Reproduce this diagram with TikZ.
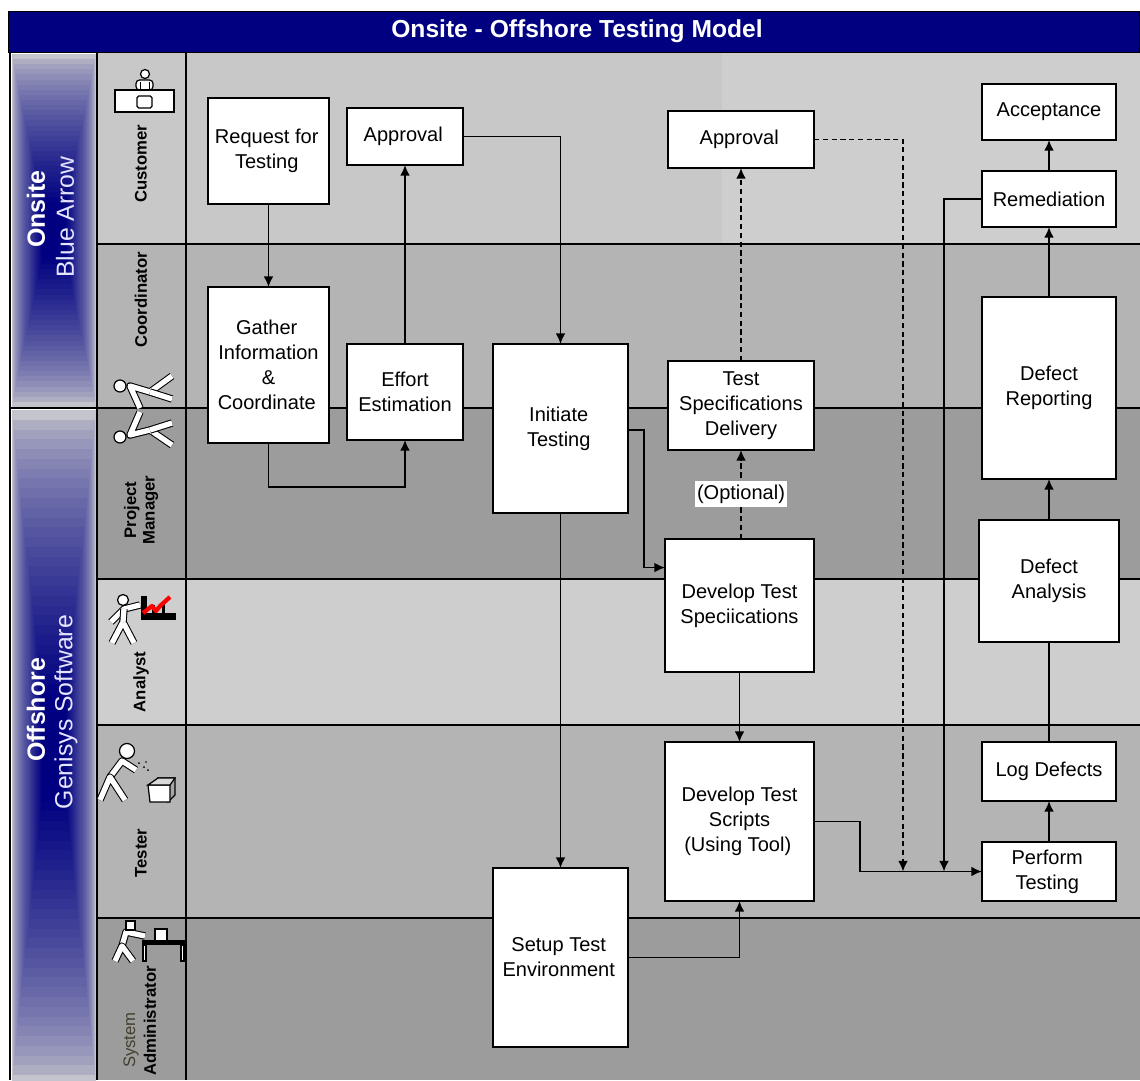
\documentclass[tikz,border=0pt]{standalone}
\usepackage{fontspec}
\setmainfont{Liberation Sans}
\usetikzlibrary{arrows.meta}
\definecolor{navyb}{HTML}{000080}
\definecolor{bandA}{HTML}{CECECE}
\definecolor{bandS}{HTML}{C8C8C8}
\definecolor{bandB}{HTML}{B4B4B4}
\definecolor{bandC}{HTML}{9C9C9C}
\definecolor{fadeout}{HTML}{C4C4CC}
\tikzset{
  x=0.02cm,y=-0.02cm,
  flowbox/.style={draw=black,fill=white,line width=1pt,align=center,inner sep=0pt,outer sep=0pt,
    font=\fontsize{11.4}{14.2}\selectfont},
  flow/.style={draw=black,line width=1pt,-{Latex[length=6pt,width=5.5pt]}},
  flowplain/.style={draw=black,line width=1pt},
  flowdash/.style={flow,dash pattern=on 3pt off 2pt},
  rule/.style={draw=black,line width=0.85pt},
  heavy/.style={draw=black,line width=1.5pt},
  rolelabel/.style={rotate=90,font=\fontsize{9.5}{10.5}\selectfont\bfseries,align=center,inner sep=0pt,text=black},
  rolethin/.style={rotate=90,font=\fontsize{9.5}{10.5}\selectfont,align=center,inner sep=0pt,text=black!70!olive},
  sidebold/.style={rotate=90,text=white,font=\fontsize{14.2}{16}\selectfont\bfseries,inner sep=0pt},
  sidethin/.style={rotate=90,text=white!90!blue,font=\fontsize{14.1}{16}\selectfont,inner sep=0pt},
  limb/.style={draw=black,line width=0.6pt,double=white,double distance=3pt,line cap=butt,line join=round},
  solid icon/.style={draw=black,fill=white,line width=0.7pt},
}
\newcommand{\flowbx}[6]{\node[flowbox,minimum width={(#4-#2)*0.56905pt},minimum height={(#5-#3)*0.56905pt}] (#1) at ({(#2+#4)/2},{(#3+#5)/2}) {#6};}
\newcommand{\lf}{\hspace*{2pt}}
\newcommand{\fadecol}[4]{%
  \foreach \k in {0,...,29}{%
    \pgfmathsetmacro{\tt}{\k/29}
    \pgfmathsetmacro{\mixv}{100*pow(\tt,0.65)}
    \pgfmathsetmacro{\dx}{\tt*30}
    \pgfmathsetmacro{\dy}{\tt*(#4-#2)*0.42}
    \fill[navyb!\mixv!fadeout] ({#1+\dx},{#2+\dy}) rectangle ({#3-\dx},{#4-\dy});
  }}
\begin{document}
\begin{tikzpicture}
\useasboundingbox (0,0) rectangle (1140,1080);
\begin{scope}
\clip (0,0) rectangle (1140,1080);
% bands
\fill[bandA] (186,52) rectangle (1140,244);
\fill[bandS] (97,52) rectangle (722,244);
\fill[bandB] (97,244) rectangle (1140,408);
\fill[bandC] (97,408) rectangle (1140,579);
\fill[bandA] (97,579) rectangle (1140,725);
\fill[bandB] (97,725) rectangle (1140,918);
\fill[bandC] (97,918) rectangle (1140,1080);
% side columns
\fadecol{12}{54}{96}{407}
\fadecol{12}{410}{96}{1085}
\foreach \yy in {244,408,579,725,918}{\draw[rule] (97,\yy) -- (1140,\yy);}
\draw[heavy] (10,52) -- (10,1080);
\draw[heavy] (97,52) -- (97,1080);
\draw[heavy] (186,52) -- (186,1080);
\draw[heavy] (10,408) -- (186,408);
% title
\node[fill=navyb,draw=black,line width=0.5pt,minimum width={1132*0.56905pt},minimum height={41*0.56905pt},inner sep=0pt,text=white,font=\fontsize{14}{16}\selectfont\bfseries] (title) at (574,31.5) {\hspace*{3.4pt}Onsite - Offshore Testing Model};
% side labels
\node[sidebold] (onsite) at (36,209) {Onsite};
\node[sidethin] (bluearrow) at (65,217) {Blue Arrow};
\node[sidebold] (offshore) at (36,710) {Offshore};
\node[sidethin] (genisys) at (66,712) {Genisys Software};
% role labels
\node[rolelabel] (customer) at (141,164) {Customer};
\node[rolelabel] (coordinator) at (141,300) {Coordinator};
\node[rolelabel] (pm) at (141,510) {Project\\Manager};
\node[rolelabel] (analyst) at (141,682) {Analyst};
\node[rolelabel] (tester) at (141,853) {Tester};
\node[rolethin] (system) at (131,1040) {System};
\node[rolelabel] (admin) at (150,1021) {Administrator};
% customer icon
\draw[solid icon] (145,74) circle (4.5);
\draw[solid icon,rounded corners=2pt] (136,90) -- (136,80) -- (153,80) -- (153,90) -- cycle;
\draw[black,line width=0.5pt] (140,82) -- (140,90) (149,82) -- (149,90);
\draw[solid icon] (115,90) rectangle (174,112);
\draw[solid icon,rounded corners=1pt] (137,96) rectangle (152,108);
% coordinator icon
\draw[limb] (140,408) -- (130,386) -- (150,392) -- (172,376);
\draw[limb] (150,392) -- (172,399);
\draw[solid icon] (120,386) circle (6);
% project manager icon
\draw[limb] (140,412) -- (130,435) -- (150,430) -- (172,445);
\draw[limb] (150,430) -- (172,423);
\draw[solid icon] (120,437) circle (6);
% analyst icon
\draw[limb] (140,605) -- (124,609) -- (111,622);
\draw[limb] (112,643) -- (123,622) -- (134,643);
\draw[limb] (124,609) -- (123,622);
\draw[solid icon] (123,600) circle (5.5);
\fill[black] (141,596) rectangle (147,613);
\fill[black] (141,613) rectangle (176,620);
\fill[black] (152,605) rectangle (155,613);
\fill[black] (162,603) rectangle (165,613);
\draw[red,line width=2.4pt,line join=round] (143,613) -- (152,606) -- (156,611) -- (160,606) -- (170,597);
% tester icon
\draw[limb] (136,770) -- (122,761) -- (110,777);
\draw[limb] (100,800) -- (110,777) -- (125,800);
\draw[solid icon] (127,751) circle (7.5);
\fill[black] (139,763) circle (1) (144,767) circle (1) (148,770) circle (1) (146,762) circle (0.8);
\draw[solid icon,fill=black!35] (158,778) -- (175,778) -- (175,795) -- (168,802) -- cycle;
\draw[solid icon] (148,785) -- (170,785) -- (170,802) -- (150,802) -- cycle;
\draw[solid icon,fill=black!15] (148,785) -- (158,778) -- (175,778) -- (170,785) -- cycle;
% sysadmin icon
\draw[limb] (145,936) -- (126,932) -- (122,946);
\draw[limb] (115,961) -- (122,946) -- (133,961);
\draw[solid icon] (126,921) rectangle (135,930);
\draw[solid icon] (155,929) rectangle (167,941);
\fill[black] (142,940) rectangle (186,945);
\draw[solid icon] (143,945) rectangle (146,961);
\draw[solid icon] (181,945) rectangle (184,961);
% boxes
\flowbx{request}{208}{98}{329}{204}{Request for\lf\\Testing\lf}
\flowbx{approvala}{347}{108}{463}{165}{Approval\lf}
\flowbx{gather}{208}{287}{329}{443}{Gather\lf\\Information\lf\\\&\lf\\Coordinate\lf}
\flowbx{effort}{347}{344}{463}{440}{Effort\\Estimation}
\flowbx{initiate}{493}{344}{628}{513}{Initiate\lf\\Testing\lf}
\flowbx{approvalb}{668}{111}{814}{168}{Approval\lf}
\flowbx{tspec}{668}{361}{814}{450}{Test\\Specifications\\Delivery}
\flowbx{dspec}{665}{539}{814}{672}{Develop Test\\Speciications}
\flowbx{dscripts}{665}{742}{814}{901}{Develop Test\\Scripts\\(Using Tool)\lf}
\flowbx{setup}{493}{868}{628}{1047}{Setup Test\lf\\Environment\lf}
\flowbx{accept}{982}{84}{1116}{140}{Acceptance}
\flowbx{remed}{982}{171}{1116}{227}{Remediation}
\flowbx{report}{982}{297}{1116}{479}{Defect\\Reporting}
\flowbx{analysis}{979}{520}{1119}{642}{Defect\\Analysis}
\flowbx{logd}{982}{742}{1116}{801}{Log Defects}
\flowbx{perform}{982}{842}{1116}{901}{Perform\lf\\Testing\lf}
% junctions
\coordinate (jscript) at (860,871.5);
\coordinate (jappr) at (903,871.5);
\coordinate (jrem) at (944,871.5);
\coordinate (jeff) at (405,487);
% connectors
\draw[flow] (request) -- (gather);
\draw[flow] (gather.south) |- (jeff) -- (effort.south);
\draw[flow] (effort.north) -- (approvala.south);
\draw[flow] (approvala.east) -| (initiate.north);
\draw[flow] ([yshift=-1pt]initiate.east) -- ++(16,0) |- ([yshift=21.6pt]dspec.west);
\draw[flow] (initiate.south) -- (setup.north);
\draw[flowdash] (dspec.north -| tspec.south) -- (tspec.south);
\draw[flowdash] (tspec.north) -- (approvalb.south);
\draw[flow] (dspec.south) -- (dscripts.north);
\draw[flow] (setup.east) -| (dscripts.south);
\draw[flowplain] (dscripts.east) -| (jscript) -- (jappr);
\draw[flow] (jscript) -- (perform.west);
\draw[flowdash] (approvalb.east) -| (jappr);
\draw[flow] (remed.west) -| (jrem);
\draw[flow] (perform.north) -- (logd.south);
\draw[flowplain] (logd.north) -- (analysis.south);
\draw[flow] (analysis.north) -- (report.south);
\draw[flow] (report.north) -- (remed.south);
\draw[flow] (remed.north) -- (accept.south);
\node[fill=white,inner xsep=1pt,inner ysep=2pt,font=\fontsize{11.4}{14}\selectfont] (optional) at (741,494) {(Optional)};
\end{scope}
\end{tikzpicture}
\end{document}
